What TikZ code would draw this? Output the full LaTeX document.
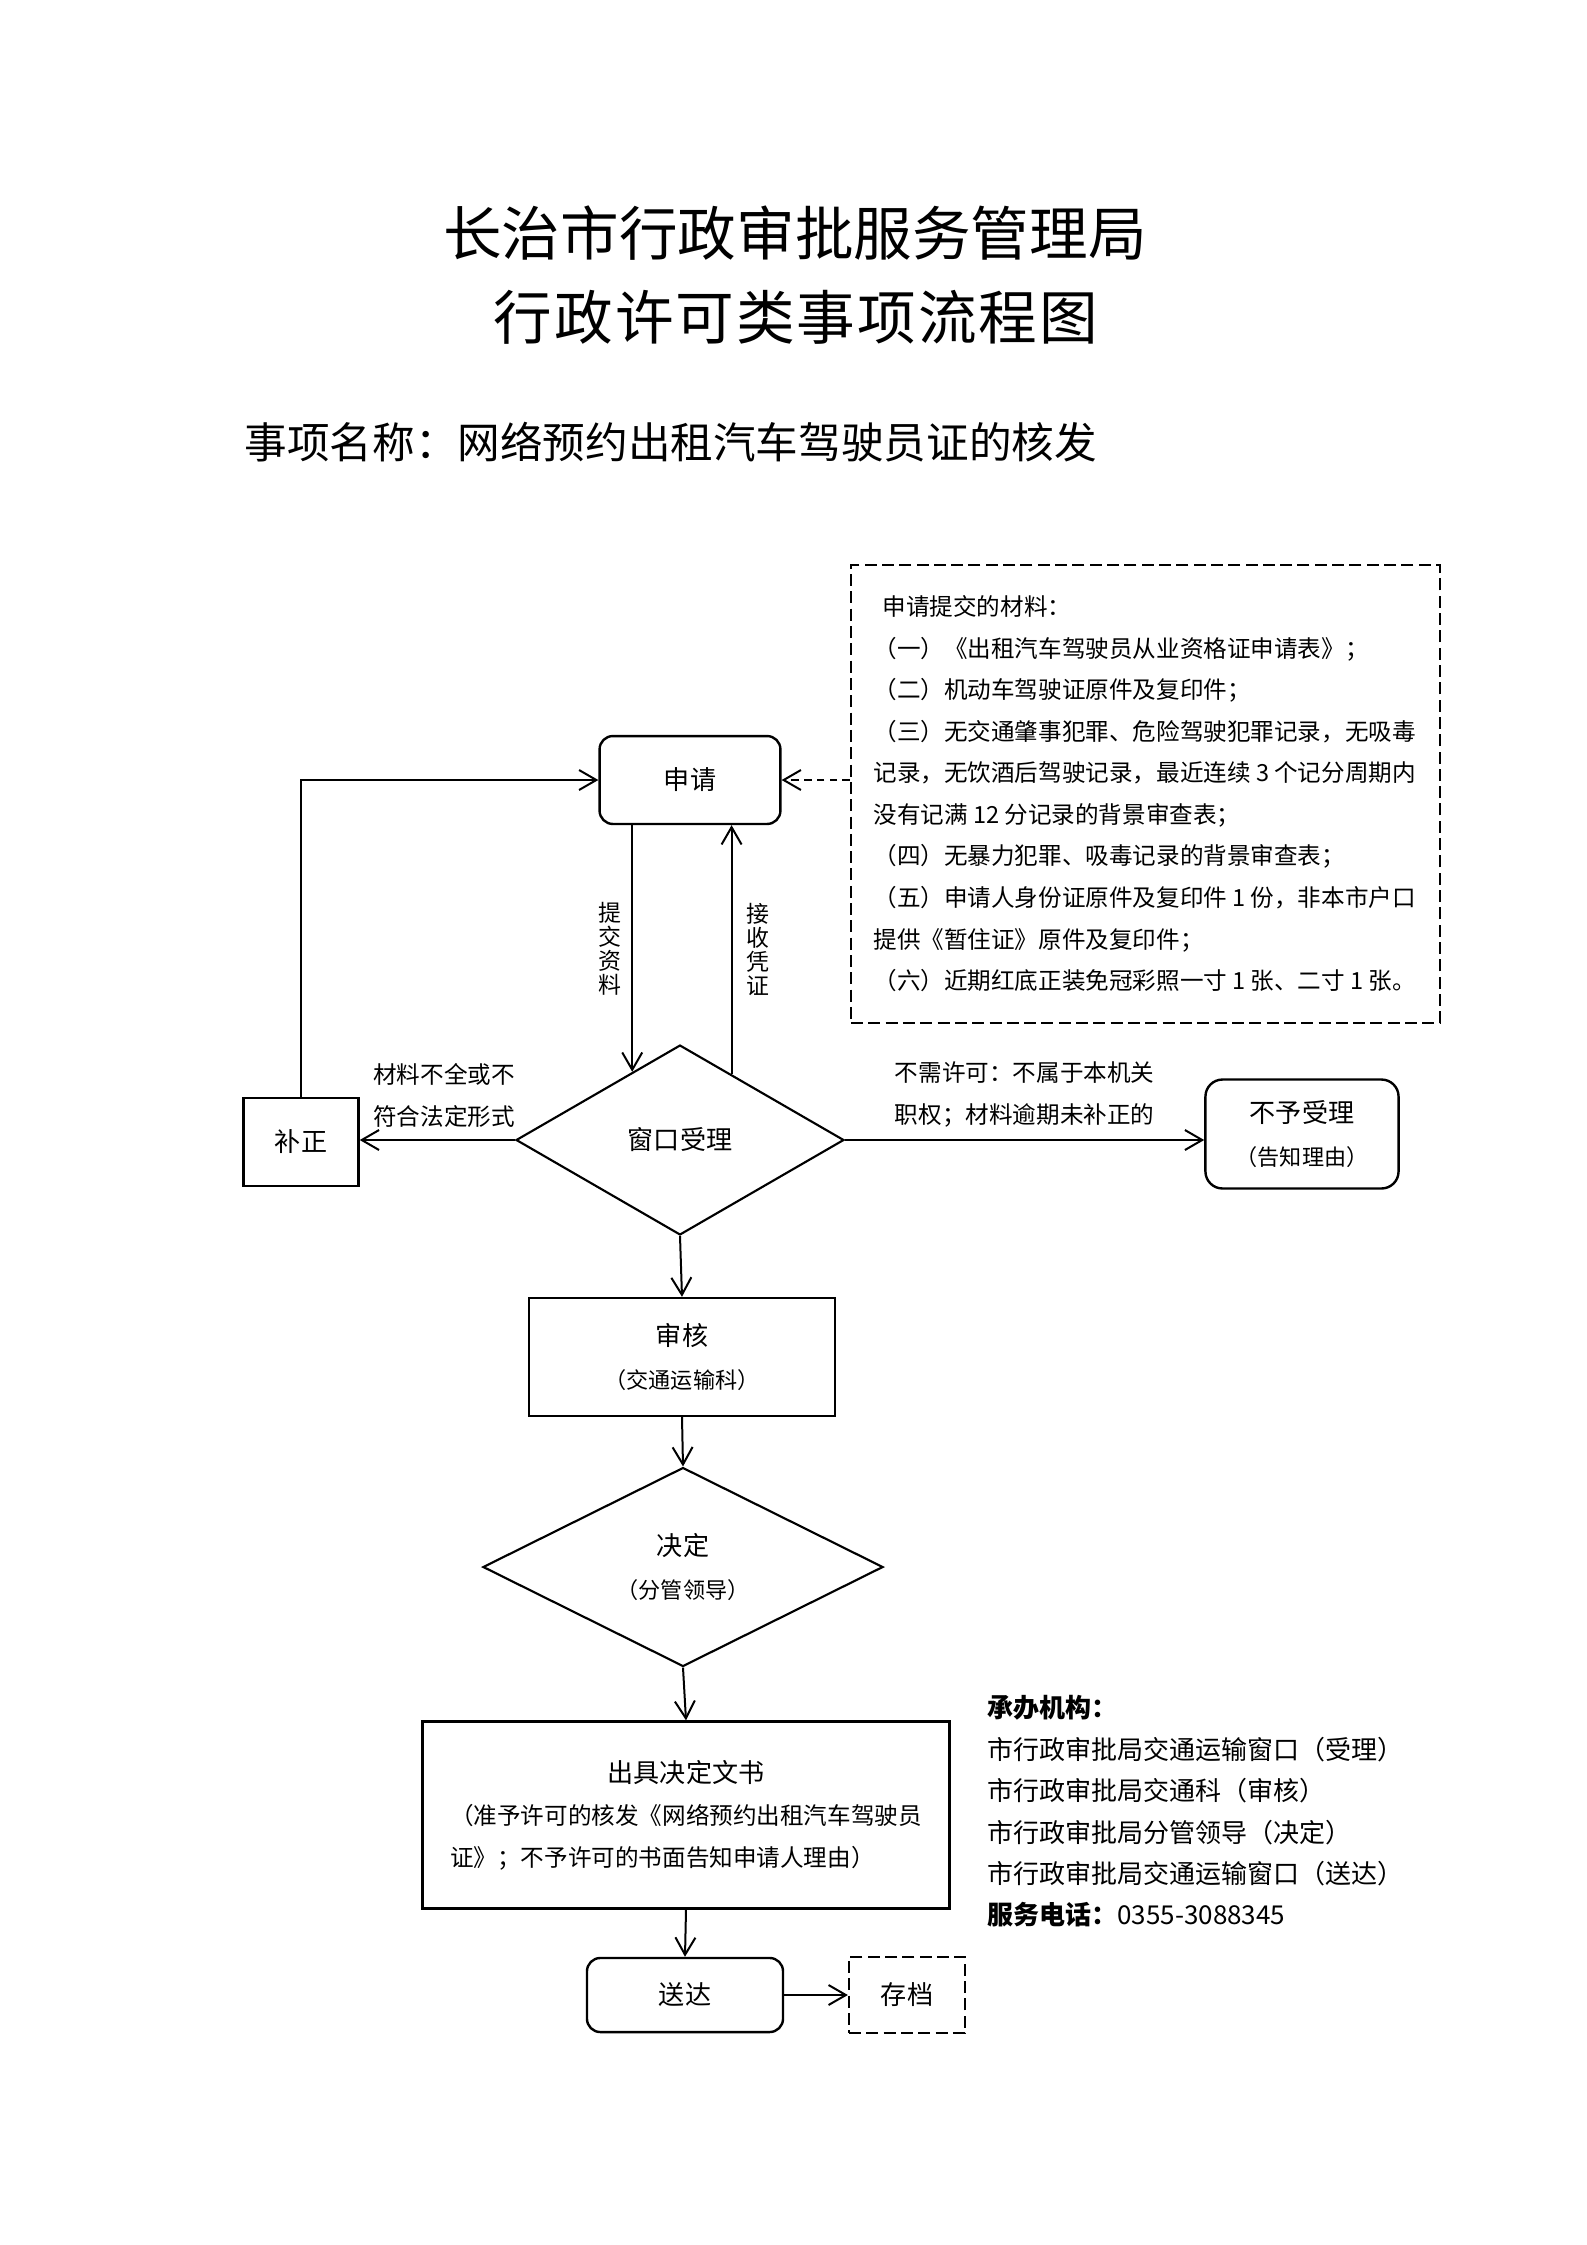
\documentclass[tikz,border=0pt]{standalone}
\usepackage{fontspec}
\setmainfont{Noto Sans CJK SC}
\newfontfamily\spacedfont[LetterSpace=3.5]{Noto Sans CJK SC}
\usetikzlibrary{shapes.geometric, arrows.meta, positioning}

\begin{document}
\begin{tikzpicture}[
  x=0.3754pt, y=-0.3754pt,
  box/.style={rectangle, draw=black, line width=0.9pt, inner sep=0pt,
              align=center, font=\fontsize{9.8pt}{15.8pt}\selectfont},
  rbox/.style={box, rounded corners=5pt},
  dbox/.style={box, dash pattern=on 4.5pt off 2pt},
  dec/.style={diamond, draw=black, line width=0.8pt, inner sep=0pt,
              align=center, font=\fontsize{9.8pt}{15.8pt}\selectfont},
  note/.style={inner sep=0pt, align=left,
               font=\fontsize{8.85pt}{15.6pt}\selectfont},
  vlabel/.style={inner sep=0pt, align=center,
                 font=\fontsize{8.6pt}{9pt}\selectfont},
  arr/.style={-{Straight Barb[length=6.5pt, width=7.5pt]}, line width=0.75pt},
  darr/.style={arr, dash pattern=on 2.8pt off 2pt}
]
\useasboundingbox (0,0) rectangle (1587,2245);

% Heading
\node[font=\fontsize{22pt}{26pt}\selectfont] (title1) at (795,233)
    {长治市行政审批服务管理局};
\node[font=\spacedfont\fontsize{22pt}{26pt}\selectfont] (title2) at (796,317)
    {行政许可类事项流程图};
\node[anchor=west, inner sep=0pt, font=\fontsize{16pt}{20pt}\selectfont] (item) at (244,442)
    {事项名称：网络预约出租汽车驾驶员证的核发};

% Main flow
\node[rbox, minimum width=67.9pt, minimum height=33pt] (apply) at (690,780) {申请};
\node[dec, minimum width=123.1pt, minimum height=71.3pt] (accept) at (680,1140) {窗口受理};
\node[box, minimum width=43.2pt, minimum height=33pt] (fix) at (301,1142) {补正};
\node[rbox, rounded corners=6.4pt, minimum width=72.5pt, minimum height=40.9pt] (reject) at (1302,1134)
    {不予受理\\{\fontsize{8.3pt}{15.8pt}\selectfont （告知理由）}};
\node[box, minimum width=114.9pt, minimum height=44.3pt] (review) at (682,1357)
    {审核\\{\fontsize{8.3pt}{15pt}\selectfont （交通运输科）}};
\node[dec, minimum width=150.2pt, minimum height=73.6pt] (decide) at (683,1567)
    {决定\\{\fontsize{8.3pt}{15.8pt}\selectfont （分管领导）}};
\node[box, minimum width=197.8pt, minimum height=70.2pt] (issue) at (686,1815)
    {出具决定文书\\
     {\fontsize{8.85pt}{15.8pt}\selectfont （准予许可的核发《网络预约出租汽车驾驶员}\\
     {\fontsize{8.85pt}{15.8pt}\selectfont\makebox[20em][l]{证》；不予许可的书面告知申请人理由）}}};
\node[rbox, minimum width=73.6pt, minimum height=27.8pt] (send) at (685,1995) {送达};
\node[dbox, minimum width=43.5pt, minimum height=28.5pt] (archive) at (907,1995) {存档};

% Materials to submit
\node[rectangle, draw, dash pattern=on 4.5pt off 2pt, line width=0.8pt,
      minimum width=221.1pt, minimum height=171.9pt] (matbox) at (1145.5,794) {};
\node[note, anchor=north west] (mattext) at (873,595)
    {\hspace*{3.4pt}申请提交的材料：\\
     （一）《出租汽车驾驶员从业资格证申请表》；\\
     （二）机动车驾驶证原件及复印件；\\
     （三）无交通肇事犯罪、危险驾驶犯罪记录，无吸毒\\
     记录，无饮酒后驾驶记录，最近连续 3 个记分周期内\\
     没有记满 12 分记录的背景审查表；\\
     （四）无暴力犯罪、吸毒记录的背景审查表；\\
     （五）申请人身份证原件及复印件 1 份，非本市户口\\
     提供《暂住证》原件及复印件；\\
     （六）近期红底正装免冠彩照一寸 1 张、二寸 1 张。};

% Offices and phone
\node[anchor=north west, inner sep=0pt, align=left,
      font=\fontsize{9.76pt}{15.55pt}\selectfont] (org) at (987,1695)
    {\textbf{承办机构：}\\
     市行政审批局交通运输窗口（受理）\\
     市行政审批局交通科（审核）\\
     市行政审批局分管领导（决定）\\
     市行政审批局交通运输窗口（送达）\\
     \textbf{服务电话：}0355-3088345};

% Connectors
\draw[darr] (matbox.west |- apply.east) -- (apply.east);
\draw[arr] (apply.south -| accept.125) --
    node[vlabel, midway, left=3.7pt] (lsubmit) {提\\交\\资\\料} (accept.125);
\draw[arr] (accept.52) --
    node[vlabel, midway, right=5.4pt] (lreceipt) {接\\收\\凭\\证} (accept.52 |- apply.south);
\draw[arr] (accept.west) --
    node[note, midway, above=4.5pt, xshift=2.5pt] (lfix) {材料不全或不\\符合法定形式} (accept.west -| fix.east);
\draw[arr] (accept.east) --
    node[note, midway, above=4.5pt] (lreject) {不需许可：不属于本机关\\职权；材料逾期未补正的} (accept.east -| reject.west);
\draw[arr] (fix.north) |- (apply.west);
\draw[arr] (accept.south) -- (review.north);
\draw[arr] (review.south) -- (decide.north);
\draw[arr] (decide.south) -- (issue.north);
\draw[arr] (issue.south) -- (send.north);
\draw[arr] (send.east) -- (archive.west);
\end{tikzpicture}
\end{document}
